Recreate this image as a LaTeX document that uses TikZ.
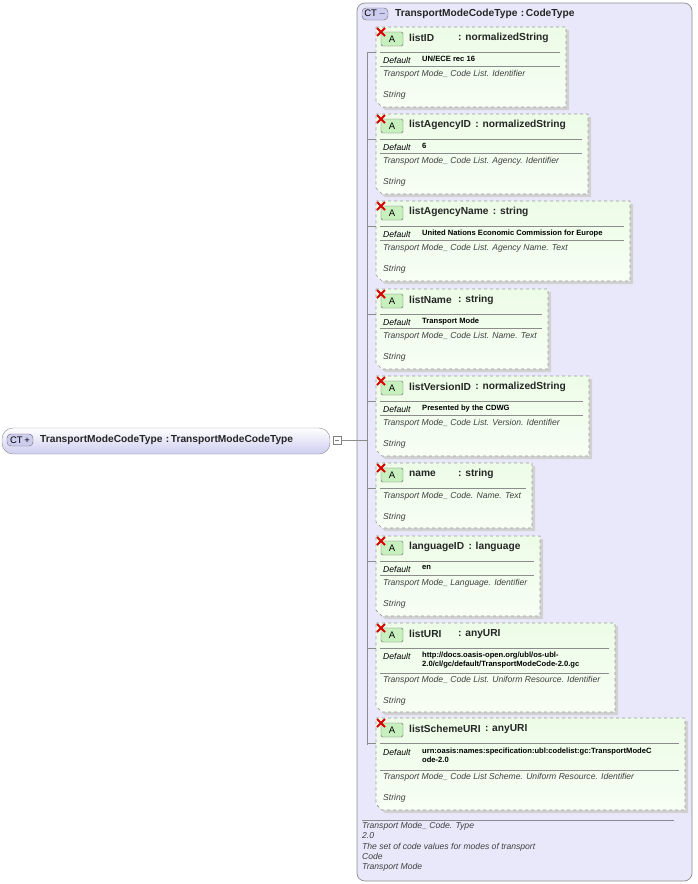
\documentclass[tikz,border=0pt]{standalone}
\usepackage{fontspec}
\setmainfont{Liberation Sans}
\usetikzlibrary{calc}
\begin{document}
\begin{tikzpicture}[x=1pt,y=-1pt,
  nm/.style={anchor=west,inner sep=0,font=\fontsize{10.2}{12}\selectfont\bfseries,text=black!85},
  dv/.style={anchor=west,inner sep=0,font=\fontsize{7.6}{9}\selectfont\bfseries,align=left},
  dl/.style={anchor=west,inner sep=0,font=\fontsize{8.6}{9}\selectfont\itshape},
  ds/.style={anchor=west,inner sep=0,font=\fontsize{8.6}{9}\selectfont\itshape,text=black!75},
  sep/.style={draw=black!45,line width=0.6pt},
  tree/.style={draw=black!45,line width=0.6pt}]
\definecolor{lav}{RGB}{232,232,250}
\definecolor{lavd}{RGB}{205,205,240}
\definecolor{grn}{RGB}{236,252,230}
\definecolor{grnd}{RGB}{200,240,190}
\useasboundingbox (0,0) rectangle (697,884);
\newcommand\abox[7]{% #1 id #2 top #3 bottom #4 right #5 name #6 type x #7 type
 \fill[black!18] (379,#2+3) -- (#4+3,#2+3) -- (#4+3,#3+3) -- (385,#3+3) -- (379,#3-3) -- cycle;
 \shade[top color=grn,bottom color=white!60!grn,draw=black!40,dashed,line width=0.7pt]
   (376,#2) -- (#4,#2) -- (#4,#3) -- (382,#3) -- (376,#3-6) -- cycle;
 \draw[tree] (367,#2+25) -- (376,#2+25);
 \node[draw=black!60,fill=grnd,rounded corners=1.5pt,minimum width=22pt,minimum height=14pt,inner sep=0,
   font=\fontsize{9.5}{10}\selectfont] (#1i) at (392,#2+12) {A};
 \draw[red!85!black,line width=2pt] (377,#2+1) -- (385,#2+9) (385,#2+1) -- (377,#2+9);
 \node[nm] (#1) at (409,#2+11) {#5};
 \path let \p1=(#1.east) in node[nm] (#1t) at ({max(#6,\x1+4pt)},#2+11) {: #7};
 \draw[sep] (380,#2+25) -- (#4-6,#2+25);}
\newcommand\adef[4]{% #1 y #2 right #3 value #4 sep y
 \node[dl] at (383,#1) {Default};
 \node[dv,anchor=north west] at (422,#1-4) {#3};
 \draw[sep] (380,#4) -- (#2-6,#4);}
\newcommand\adesc[2]{%
 \node[ds] at (383,#1) {#2};
 \node[ds] at (383,#1+21) {String};}
% container
\shade[top color=lav,bottom color=lav,draw=black!45,rounded corners=8pt,line width=0.7pt] (357,3) rectangle (692,881);
\node[draw=black!60,fill=lavd,rounded corners=4pt,minimum width=26pt,minimum height=12pt,inner sep=0,font=\fontsize{9.5}{10}\selectfont] (cti) at (375,14) {CT\,$-$};
\node[nm] (title) at (395,14) {TransportModeCodeType\,\,:\,CodeType};
% left node
\shade[top color=white,bottom color=lavd,draw=black!45,rounded corners=11pt] (2,428) rectangle (330,454);
\node[draw=black!60,fill=lavd,rounded corners=4pt,minimum width=26pt,minimum height=12pt,inner sep=0,font=\fontsize{9.5}{10}\selectfont] (lci) at (20,440) {CT\,+};
\node[nm] (left) at (40,440) {TransportModeCodeType\,\,:\,TransportModeCodeType};
\draw[draw=black!50,fill=white] (333,436) rectangle (341,444);
\draw[black!50] (335,440) -- (339,440);
\draw[tree] (341,440) -- (367,440);
\draw[tree] (367,52) -- (367,745);
% boxes
\abox{a1}{27}{107}{566}{listID}{458}{normalizedString}
\adef{60}{566}{UN/ECE rec 16}{66}\adesc{74}{Transport Mode\_ Code List. Identifier}
\abox{a2}{114}{194}{588}{listAgencyID}{458}{normalizedString}
\adef{147}{588}{6}{153}\adesc{161}{Transport Mode\_ Code List. Agency. Identifier}
\abox{a3}{201}{281}{630}{listAgencyName}{458}{string}
\adef{234}{630}{United Nations Economic Commission for Europe}{240}\adesc{248}{Transport Mode\_ Code List. Agency Name. Text}
\abox{a4}{289}{369}{548}{listName}{458}{string}
\adef{322}{548}{Transport Mode}{328}\adesc{336}{Transport Mode\_ Code List. Name. Text}
\abox{a5}{376}{456}{589}{listVersionID}{458}{normalizedString}
\adef{409}{589}{Presented by the CDWG}{415}\adesc{423}{Transport Mode\_ Code List. Version. Identifier}
\abox{a6}{463}{528}{532}{name}{458}{string}
\adesc{496}{Transport Mode\_ Code. Name. Text}
\abox{a7}{536}{616}{540}{languageID}{458}{language}
\adef{569}{540}{en}{575}\adesc{583}{Transport Mode\_ Language. Identifier}
\abox{a8}{623}{712}{615}{listURI}{458}{anyURI}
\adef{656}{615}{http://docs.oasis-open.org/ubl/os-ubl-\\2.0/cl/gc/default/TransportModeCode-2.0.gc}{673}\adesc{680}{Transport Mode\_ Code List. Uniform Resource. Identifier}
\abox{a9}{718}{810}{685}{listSchemeURI}{458}{anyURI}
\adef{752}{685}{urn:oasis:names:specification:ubl:codelist:gc:TransportModeC\\ode-2.0}{770}\adesc{777}{Transport Mode\_ Code List Scheme. Uniform Resource. Identifier}
% footer
\draw[sep] (362,820) -- (674,820);
\node[ds,anchor=north west,align=left,font=\fontsize{8.6}{10.3}\selectfont\itshape] (foot) at (362,822)
 {Transport Mode\_ Code. Type\\2.0\\The set of code values for modes of transport\\Code\\Transport Mode};
\end{tikzpicture}
\end{document}
